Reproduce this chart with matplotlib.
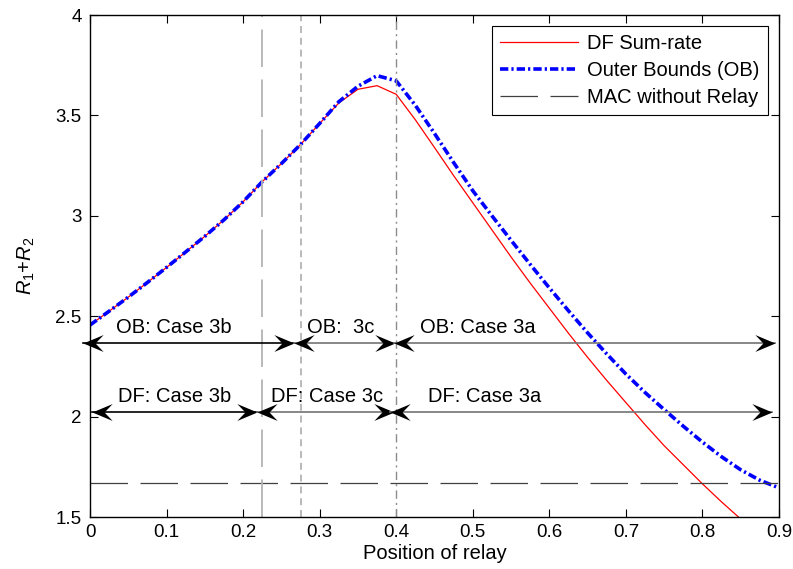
import numpy as np
import matplotlib
matplotlib.use("Agg")
import matplotlib.pyplot as plt
from matplotlib.path import Path

plt.rcParams['font.family'] = ['Liberation Sans', 'DejaVu Sans']
plt.rcParams['font.size'] = 14.5
plt.rcParams['mathtext.fontset'] = 'custom'
plt.rcParams['mathtext.rm'] = 'Liberation Sans'
plt.rcParams['mathtext.it'] = 'Liberation Sans:italic'
plt.rcParams['lines.scale_dashes'] = False

# relay position (sampled every 0.025)
pos = [0.0, 0.025, 0.05, 0.075, 0.1, 0.125, 0.15, 0.175, 0.2, 0.225, 0.25,
       0.275, 0.3, 0.325, 0.35, 0.375, 0.4, 0.425, 0.45, 0.475, 0.5, 0.525,
       0.55, 0.575, 0.6, 0.625, 0.65, 0.675, 0.7, 0.725, 0.75, 0.775, 0.8,
       0.825, 0.85, 0.875, 0.9]

df_rate = [2.456, 2.525, 2.595, 2.668, 2.743, 2.820, 2.898, 2.980, 3.070,
           3.170, 3.260, 3.355, 3.460, 3.562, 3.630, 3.648, 3.605, 3.478,
           3.340, 3.200, 3.065, 2.930, 2.795, 2.665, 2.540, 2.415, 2.295,
           2.180, 2.070, 1.960, 1.855, 1.760, 1.665, 1.575, 1.490]

ob_rate = [2.456, 2.525, 2.595, 2.668, 2.743, 2.820, 2.898, 2.980, 3.070,
           3.170, 3.260, 3.355, 3.460, 3.568, 3.645, 3.698, 3.672, 3.550,
           3.410, 3.265, 3.125, 3.000, 2.878, 2.758, 2.641, 2.527, 2.417,
           2.312, 2.212, 2.120, 2.035, 1.952, 1.873, 1.800, 1.735, 1.683,
           1.645]

mac_rate = 1.67

# boundaries between the cases
df_bounds = [0.225, 0.4]
ob_bound = 0.275

# case arrows: (start, end, label, label x)
ob_y, df_y = 2.365, 2.021
ob_cases = [(-0.009, 0.266, 'OB: Case 3b', 0.110),
            (0.266, 0.399, 'OB:  3c', 0.327),
            (0.397, 0.895, 'OB: Case 3a', 0.5065)]
df_cases = [(0.002, 0.218, 'DF: Case 3b', 0.110),
            (0.218, 0.3965, 'DF: Case 3c', 0.310),
            (0.392, 0.891, 'DF: Case 3a', 0.5157)]

# concave arrow head, tip at origin
head_r = Path([(0, 0), (-1, 0.42), (-0.6, 0), (-1, -0.42), (0, 0)],
              [Path.MOVETO, Path.LINETO, Path.LINETO, Path.LINETO, Path.CLOSEPOLY])
head_l = Path([(0, 0), (1, 0.42), (0.6, 0), (1, -0.42), (0, 0)],
              [Path.MOVETO, Path.LINETO, Path.LINETO, Path.LINETO, Path.CLOSEPOLY])

fig = plt.figure(figsize=(7.93, 5.69), dpi=100)
ax = fig.add_axes([90 / 793, 52 / 569, 689 / 793, 502 / 569])

ax.plot(pos[:len(df_rate)], df_rate, color='red', lw=0.9, label='DF Sum-rate')
ax.plot(pos, ob_rate, color='blue', lw=2.6, dashes=(6, 2.2, 1.6, 2.2),
        label='Outer Bounds (OB)')
ax.axhline(mac_rate, color='0.25', lw=0.9, dashes=(27, 9),
           label='MAC without Relay')

ax.axvline(df_bounds[0], color='0.7', lw=1.3, dashes=(27, 9))
ax.axvline(ob_bound, color='0.7', lw=1.3, dashes=(5, 3.5))
ax.axvline(df_bounds[1], color='0.55', lw=1.0, dashes=(6, 3, 1.5, 3))


def case_arrow(x0, x1, y, text, tx, col):
    ax.plot([x0, x1], [y, y], color=col, lw=1.2, clip_on=False)
    ax.plot([x0], [y], marker=head_l, ms=29, color='black', mew=0,
            clip_on=False, linestyle='none')
    ax.plot([x1], [y], marker=head_r, ms=29, color='black', mew=0,
            clip_on=False, linestyle='none')
    ax.text(tx, y + 0.078, text, ha='center', va='center')


for i, (x0, x1, t, tx) in enumerate(ob_cases):
    case_arrow(x0, x1, ob_y, t, tx, 'black' if i == 0 else '0.45')
for i, (x0, x1, t, tx) in enumerate(df_cases):
    case_arrow(x0, x1, df_y, t, tx, 'black' if i == 0 else '0.45')

ax.set_xlim(0, 0.9)
ax.set_ylim(1.5, 4)
ax.set_xticks(np.arange(0, 0.91, 0.1))
ax.set_xticklabels(['0', '0.1', '0.2', '0.3', '0.4', '0.5', '0.6', '0.7', '0.8', '0.9'])
ax.set_yticks([1.5, 2, 2.5, 3, 3.5, 4])
ax.set_yticklabels(['1.5', '2', '2.5', '3', '3.5', '4'])
ax.tick_params(direction='in', top=True, right=True, length=5.5, width=0.8,
               labelsize=13.5)
ax.tick_params(axis='x', pad=5)
ax.tick_params(axis='y', pad=6)
for s in ax.spines.values():
    s.set_linewidth(1.0)

ax.set_xlabel('Position of relay')
ax.xaxis.set_label_coords(0.5, -0.053)
ax.set_ylabel('$R_1$+$R_2$')
ax.yaxis.set_label_coords(-0.077, 0.5)

leg = ax.legend(loc='upper right', fancybox=False, framealpha=1,
                edgecolor='black', handlelength=3.9, handletextpad=0.45,
                borderaxespad=0.55, labelspacing=0.4, borderpad=0.4)
leg.get_frame().set_linewidth(0.8)

fig.savefig('out.png', dpi=100)
